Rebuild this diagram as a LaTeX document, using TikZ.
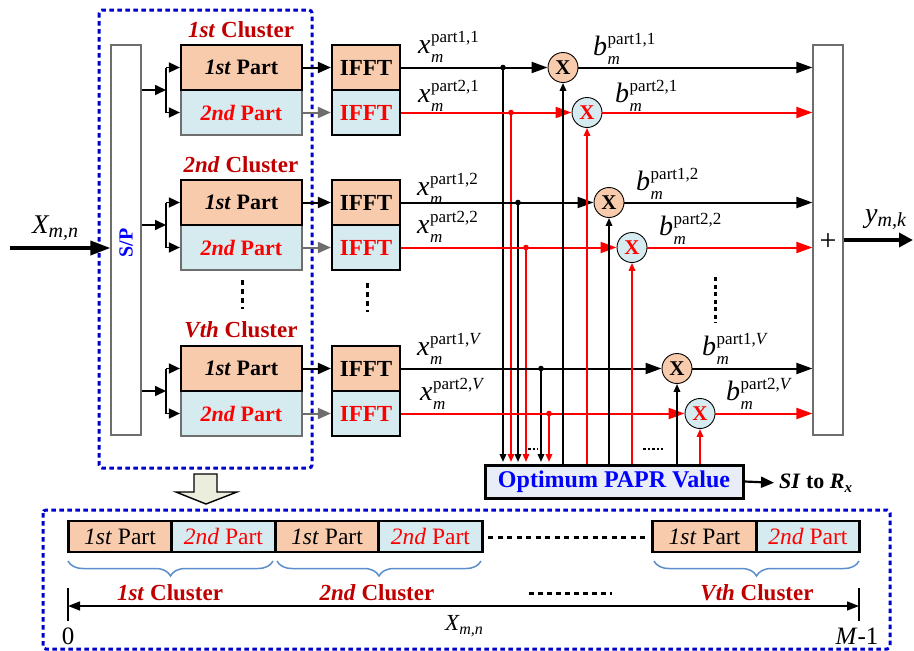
\documentclass[tikz,border=0pt]{standalone}
\usepackage{fontspec}
\setmainfont{Liberation Serif}
\usetikzlibrary{arrows.meta,decorations.pathreplacing,calc}
\definecolor{peach}{HTML}{F8CBAD}
\definecolor{lblue}{HTML}{D5EBF0}
\definecolor{dred}{HTML}{C00000}
\definecolor{dblue}{HTML}{0000CC}
\definecolor{pbox}{HTML}{E8EDF7}
\definecolor{brc}{HTML}{5B8FCC}
\definecolor{arfill}{HTML}{EBEEDD}
\definecolor{gborder}{HTML}{6E6E6E}
\newcommand{\fs}[1]{\fontsize{#1}{#1}\selectfont}
\newcommand{\sig}[3]{{\fs{28}\itshape #1}\kern0.5pt\rlap{\raisebox{-9pt}{\fs{17}\itshape m}}\raisebox{11pt}{\fs{17}part#2,#3}}
\tikzset{
  p1/.style={draw=black, line width=2.2pt, fill=peach, minimum width=121pt, minimum height=45pt, inner sep=0pt, font=\fs{22}\bfseries},
  p2/.style={p1, draw=gborder, fill=lblue, text=red},
  f1/.style={draw=black, line width=2.2pt, fill=peach, minimum width=68pt, minimum height=45pt, inner sep=0pt, font=\fs{23}\bfseries},
  f2/.style={f1, fill=lblue, text=red},
  mulA/.style={circle, draw=black, line width=0.9pt, fill=peach, minimum size=30pt, inner sep=0pt, font=\fs{21}\bfseries},
  mulB/.style={mulA, fill=lblue, text=red},
  clab/.style={font=\fs{23}\bfseries, text=dred, inner sep=0pt},
  bk/.style={draw=black, line width=2pt},
  rd/.style={draw=red, line width=2pt},
  tapA/.style={draw=black, line width=1.7pt, -{Triangle[length=8pt,width=6.5pt]}},
  tapB/.style={tapA, draw=red},
  bb1/.style={draw=black, line width=2.8pt, fill=peach, minimum width=103.5pt, minimum height=31pt, inner sep=0pt, font=\fs{23.5}},
  bb2/.style={bb1, fill=lblue, text=red},
  lab/.style={anchor=base west, inner sep=0pt},
  tall/.style={draw=gborder, line width=1.2pt, fill=white, minimum width=30pt, minimum height=390pt, inner sep=0pt},
  bluebox/.style={draw=dblue, line width=3pt, dash pattern=on 4.5pt off 3.5pt, rounded corners=3pt},
  vdots/.style={line width=3pt, dash pattern=on 5pt off 4pt},
}
\begin{document}
\begin{tikzpicture}[x=1pt,y=-1pt,>={Triangle[length=16pt,width=11pt]}]
\useasboundingbox (0,0) rectangle (914,651);
% blue dashed boxes
\draw[bluebox] (99,10) rectangle (312,468);
\draw[bluebox] (43,510) rectangle (890,649);
% S/P and sum
\node[tall] (sp) at (126,240) {};
\node[rotate=90, text=blue, font=\fs{20}\bfseries, inner sep=0pt] (sptxt) at (126,243) {S/P};
\node[tall] (sum) at (828,240) {};
\node[font=\fs{30}, inner sep=0pt] (plus) at (828,242) {+};
% parts
\node[p2] (p12) at (241.5,112.5) {\textit{2nd} Part};
\node[p1] (p11) at (241.5,67.5) {\textit{1st} Part};
\node[p2] (p22) at (241.5,247.5) {\textit{2nd} Part};
\node[p1] (p21) at (241.5,202.5) {\textit{1st} Part};
\node[p2] (pV2) at (241.5,413.5) {\textit{2nd} Part};
\node[p1] (pV1) at (241.5,368.5) {\textit{1st} Part};
\node[clab] (c1) at (241,30) {\textit{1st} Cluster};
\node[clab] (c2) at (241,165) {\textit{2nd} Cluster};
\node[clab] (cV) at (241,330) {\textit{Vth} Cluster};
% IFFT
\node[f2] (f12) at (366,112.5) {IFFT};
\node[f1] (f11) at (366,67.5) {IFFT};
\node[f2] (f22) at (366,247.5) {IFFT};
\node[f1] (f21) at (366,202.5) {IFFT};
\node[f2] (fV2) at (366,413.5) {IFFT};
\node[f1] (fV1) at (366,368.5) {IFFT};
% vertical dots
\draw[vdots] (242,280) -- (242,309);
\draw[vdots] (367,283) -- (367,312);
\draw[vdots, dash pattern=on 4pt off 3.5pt] (715,277) -- (715,323);
% input and S/P branches
\coordinate (xin) at (10,248);
\draw[line width=3.5pt, -{Triangle[length=20pt,width=14pt]}] (xin) -- (xin -| sp.west);
\node[lab] (xlab) at (32,233) {{\fs{27}\itshape X}\raisebox{-4pt}{\fs{20}\itshape m,n}};
\foreach \b/\u/\l/\yy in {b1/p11/p12/90, b2/p21/p22/225, b3/pV1/pV2/391}{
  \coordinate (\b) at (166,\yy);
  \draw[line width=1.7pt, -{Triangle[length=11pt,width=10pt]}] (sp.east |- \b) -- (\b);
  \draw[line width=1.7pt] (\b |- \u) -- (\b |- \l);
  \draw[line width=1.7pt, -{Triangle[length=11pt,width=10pt]}] (\b |- \u) -- (\u.west);
  \draw[line width=1.7pt, -{Triangle[length=11pt,width=10pt]}] (\b |- \l) -- (\l.west);
}
% part -> IFFT
\foreach \u/\v in {p11/f11, p21/f21, pV1/fV1}
  \draw[line width=2pt, -{Triangle[length=13pt,width=11pt]}] (\u.east) -- (\v.west);
\foreach \u/\v in {p12/f12, p22/f22, pV2/fV2}
  \draw[line width=2pt, draw=gborder, -{Triangle[length=13pt,width=11pt]}] (\u.east) -- (\v.west);
% PAPR box
\node[draw=black, line width=3pt, fill=pbox, minimum width=258pt, minimum height=33pt, inner sep=0pt, font=\fs{24}\bfseries, text=blue] (papr) at (614,481.5) {Optimum PAPR Value};
\node[anchor=west, inner sep=0pt, font=\fs{22}\bfseries] (si) at (779,483) {\textit{SI} to \textit{R}\raisebox{-4pt}{\fs{15}\textit{x}}};
\draw[line width=2.2pt, -{Triangle[length=13pt,width=11pt]}, shorten >=5pt] (papr.east) -- (si.west);
% multipliers
\node[mulA] (m1) at (563,67.5) {X};
\node[mulB] (m2) at (587,112.5) {X};
\node[mulA] (m3) at (609,202.5) {X};
\node[mulB] (m4) at (632,247.5) {X};
\node[mulA] (m5) at (677,368.5) {X};
\node[mulB] (m6) at (700,413.5) {X};
% taps
\foreach \t/\xx/\yy/\s in {t1/503/67.5/tapA, t2/511/112.5/tapB, t3/518/202.5/tapA, t4/526/247.5/tapB, t5/541/368.5/tapA, t6/549/413.5/tapB}{
  \coordinate (\t) at (\xx,\yy);
  \draw[\s, shorten >=1.5pt] (\t) -- (\t |- papr.north);
}
% IFFT -> multipliers
\draw[bk,->] (f11.east) -- (m1.west);
\draw[rd,->] (f12.east) -- (m2.west);
\draw[bk,->] (f21.east) -- (m3.west);
\draw[rd,->] (f22.east) -- (m4.west);
\draw[bk,->] (fV1.east) -- (m5.west);
\draw[rd,->] (fV2.east) -- (m6.west);
\foreach \t/\c in {t1/black, t2/red, t3/black, t4/red, t5/black, t6/red}
  \fill[\c] (\t) circle (2.8pt);
% PAPR -> multipliers
\foreach \m/\s in {m1/tapA, m2/tapB, m3/tapA, m4/tapB, m5/tapA, m6/tapB}
  \draw[\s] (\m |- papr.north) -- (\m.south);
% small dashes
\draw[line width=1.2pt, dash pattern=on 2.5pt off 2pt] (528,449) -- (538,449);
\draw[line width=1.2pt, dash pattern=on 2.5pt off 2pt] (643,449) -- (663,449);
% multipliers -> sum
\draw[bk,->] (m1.east) -- (m1.east -| sum.west);
\draw[rd,->] (m2.east) -- (m2.east -| sum.west);
\draw[bk,->] (m3.east) -- (m3.east -| sum.west);
\draw[rd,->] (m4.east) -- (m4.east -| sum.west);
\draw[bk,->] (m5.east) -- (m5.east -| sum.west);
\draw[rd,->] (m6.east) -- (m6.east -| sum.west);
% output
\coordinate (yo) at (913,240);
\draw[line width=4pt, -{Triangle[length=14pt,width=14pt]}] (sum.east |- yo) -- (yo);
\node[lab] (ylab) at (865,222) {{\fs{28}\itshape y}\raisebox{-4pt}{\fs{20}\itshape m,k}};
% signal labels
\node[lab] (lx1) at (418,53) {\sig{x}{1}{1}};
\node[lab] (lx2) at (418,102) {\sig{x}{2}{1}};
\node[lab] (lx3) at (417,195) {\sig{x}{1}{2}};
\node[lab] (lx4) at (417,233) {\sig{x}{2}{2}};
\node[lab] (lx5) at (417,355) {\sig{x}{1}{\textit{V}}};
\node[lab] (lx6) at (420,400) {\sig{x}{2}{\textit{V}}};
\node[lab] (lb1) at (593,55) {\sig{b}{1}{1}};
\node[lab] (lb2) at (615,102) {\sig{b}{2}{1}};
\node[lab] (lb3) at (636,190) {\sig{b}{1}{2}};
\node[lab] (lb4) at (659,235) {\sig{b}{2}{2}};
\node[lab] (lb5) at (702,355) {\sig{b}{1}{\textit{V}}};
\node[lab] (lb6) at (726,400) {\sig{b}{2}{\textit{V}}};
% block arrow
\draw[line width=1.4pt, fill=arfill] (194,474) -- (217,474) -- (217,492) -- (237,492) -- (206,504) -- (176,492) -- (194,492) -- cycle;
% bottom bar
\node[bb1] (q1) at (120,536.5) {\textit{1st} Part};
\node[bb2] (q2) at (223.5,536.5) {\textit{2nd} Part};
\node[bb1] (q3) at (327,536.5) {\textit{1st} Part};
\node[bb2] (q4) at (430.5,536.5) {\textit{2nd} Part};
\node[bb1] (q5) at (704.5,536.5) {\textit{1st} Part};
\node[bb2] (q6) at (808,536.5) {\textit{2nd} Part};
\draw[line width=3pt, dash pattern=on 5pt off 4.5pt] (488,537) -- (646,537);
% braces
\foreach \a/\b in {68/273, 277/481, 654/859}
  \draw[brc, line width=1.5pt, decorate, decoration={brace, amplitude=15pt, mirror}] (\a,561) -- (\b,561);
\node[clab] (bc1) at (170,593) {\textit{1st} Cluster};
\node[clab] (bc2) at (377,593) {\textit{2nd} Cluster};
\node[clab] (bc3) at (757,593) {\textit{Vth} Cluster};
\draw[line width=3pt, dash pattern=on 5pt off 4pt] (529,593) -- (612,593);
% range arrow
\coordinate (r0) at (68,606);
\coordinate (r1) at (859,606);
\draw[line width=1.4pt, {Triangle[length=12pt,width=9pt]}-{Triangle[length=12pt,width=9pt]}] (r0) -- (r1);
\draw[line width=1.4pt] (68,588) -- (68,621);
\draw[line width=1.4pt] (859,588) -- (859,621);
\node[font=\fs{25}, inner sep=0pt] (zero) at (68,636) {0};
\node[font=\fs{25}, inner sep=0pt] (mm) at (857,636) {\textit{M}-1};
\node[lab] (xb) at (445,630) {{\fs{23}\itshape X}\raisebox{-4pt}{\fs{16}\itshape m,n}};
\end{tikzpicture}
\end{document}
